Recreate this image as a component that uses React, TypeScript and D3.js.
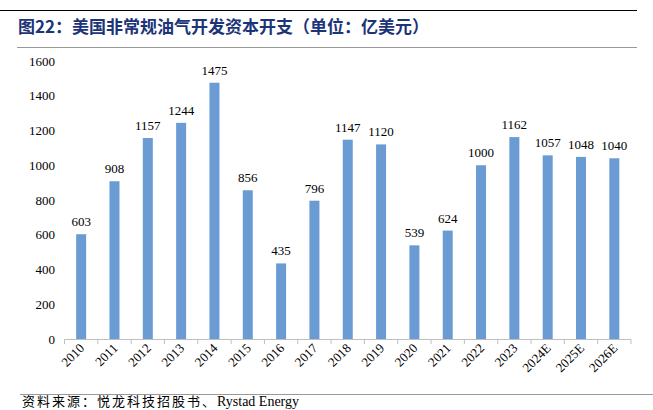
import React from "react";
import * as d3 from "d3";

const categories = ["2010","2011","2012","2013","2014","2015","2016","2017","2018","2019","2020","2021","2022","2023","2024E","2025E","2026E"];
const values = [603,908,1157,1244,1475,856,435,796,1147,1120,539,624,1000,1162,1057,1048,1040];
const yTicks = [0,200,400,600,800,1000,1200,1400,1600];
const title = "图22：美国非常规油气开发资本开支（单位：亿美元）";
const sourceCn = "资料来源：悦龙科技招股书、";
const sourceEn = "Rystad Energy";

export default function App() {
  const W = 653, H = 410;
  const x = d3.scaleBand().domain(categories).range([64.5, 631]).paddingInner(0).paddingOuter(0);
  const y = d3.scaleLinear().domain([0, 1600]).range([339, 61]);
  const bw = 10;
  const serif = "'Liberation Serif', 'Times New Roman', serif";
  return (
    <svg width={W} height={H} style={{ position: "absolute", left: 0, top: 0, background: "#fff" }}>
      <line x1={0} x2={637} y1={10.5} y2={10.5} stroke="#000" strokeWidth={1.2} />
      <text x={18} y={33} fontSize={17} fontWeight="bold" fill="#1c3478" fontFamily="'Noto Sans CJK SC', sans-serif">{title}</text>
      <line x1={17} x2={637} y1={47.5} y2={47.5} stroke="#999" strokeWidth={1} />
      {yTicks.map(t => (
        <text key={t} x={55} y={y(t) + 4.5} fontSize={13} textAnchor="end" fontFamily={serif} fill="#000">{t}</text>
      ))}
      <line x1={64.5} x2={631} y1={339.5} y2={339.5} stroke="#bfbfbf" />
      {categories.map((c) => (
        <line key={"t" + c} x1={x(c)!} x2={x(c)!} y1={339.5} y2={344} stroke="#bfbfbf" />
      ))}
      <line x1={631} x2={631} y1={339.5} y2={344} stroke="#bfbfbf" />
      {categories.map((c, i) => {
        const cx = x(c)! + x.bandwidth() / 2;
        return (
          <g key={c}>
            <rect x={cx - bw / 2} y={y(values[i])} width={bw} height={339 - y(values[i])} fill="#6a9bd3" />
            <text x={cx} y={y(values[i]) - 8} fontSize={13} textAnchor="middle" fontFamily={serif} fill="#000">{values[i]}</text>
            <text transform={`translate(${cx + 4},${349}) rotate(-45)`} fontSize={13} textAnchor="end" fontFamily={serif} fill="#000">{c}</text>
          </g>
        );
      })}
      <line x1={20} x2={653} y1={394.5} y2={394.5} stroke="#999" strokeWidth={1} />
      <text x={22} y={406} fontSize={13} fill="#000">
        <tspan fontFamily="'Noto Sans CJK SC', sans-serif" letterSpacing={2}>{sourceCn}</tspan>
        <tspan fontFamily={serif} fontSize={14}>{sourceEn}</tspan>
      </text>
    </svg>
  );
}
